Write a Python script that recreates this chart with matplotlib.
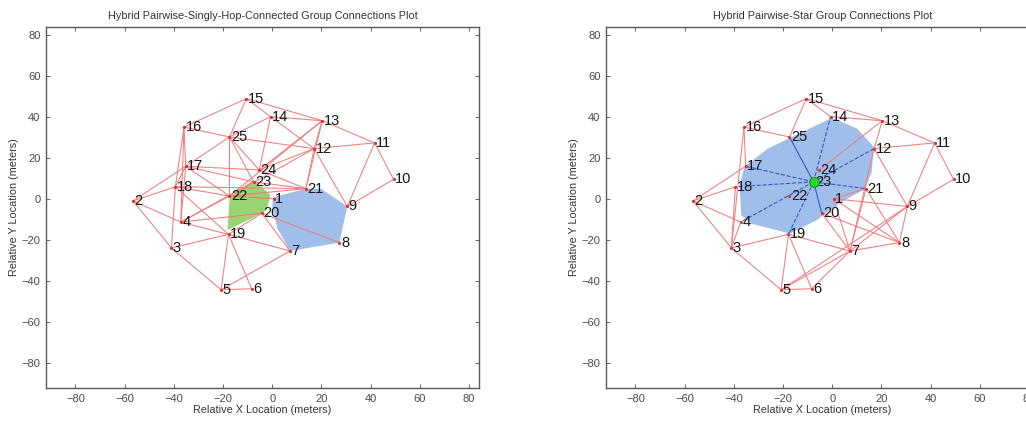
import matplotlib

matplotlib.use("Agg")
import matplotlib.pyplot as plt
import numpy as np

plt.rcParams["font.family"] = ["Liberation Sans", "DejaVu Sans"]

# node positions (meters), index = node id - 1
NODE_X = [0.5, -56.6, -41.0, -37.2, -20.8, -8.4, 7.2, 27.3, 30.5, 49.3,
          41.6, 17.0, 20.3, -0.7, -10.5, -35.9, -35.2, -39.4, -17.8, -4.3,
          13.7, -17.4, -7.6, -5.3, -17.4]
NODE_Y = [0.3, -0.8, -23.7, -11.1, -44.1, -43.6, -25.2, -21.1, -3.5, 9.7,
          27.5, 24.7, 38.3, 40.3, 49.1, 35.2, 16.1, 6.1, -17.1, -6.8,
          5.2, 1.6, 8.5, 14.3, 30.4]

LEFT_EDGES = [
    (15, 16), (15, 25), (15, 14), (15, 13), (14, 13), (14, 25), (14, 24),
    (14, 12), (13, 11), (13, 12), (13, 24), (13, 22), (13, 21), (16, 25),
    (16, 17), (16, 18), (25, 12), (25, 17), (25, 22), (25, 24), (25, 23),
    (12, 11), (12, 21), (12, 9), (12, 24), (12, 22), (11, 10), (11, 9),
    (10, 9), (17, 24), (17, 23), (17, 22), (17, 18), (17, 2), (17, 4),
    (18, 21), (18, 2), (18, 22), (18, 3), (18, 19), (2, 4), (2, 3),
    (4, 22), (4, 23), (4, 19), (4, 20), (3, 19), (3, 5), (19, 5), (19, 6),
    (19, 7), (19, 20), (5, 6), (5, 7), (7, 20), (20, 8), (22, 21), (22, 1),
    (24, 21), (16, 4), (23, 21),
]
RIGHT_EDGES = [
    (15, 16), (15, 25), (15, 14), (15, 13), (16, 25), (16, 3), (16, 17),
    (17, 2), (18, 2), (18, 3), (2, 4), (2, 3), (4, 3), (3, 19), (3, 5),
    (19, 5), (19, 6), (19, 7), (5, 6), (5, 7), (5, 9), (6, 7), (7, 9),
    (7, 8), (7, 12), (7, 20), (7, 1), (8, 9), (8, 1), (8, 20), (8, 21),
    (9, 10), (9, 11), (9, 1), (9, 12), (10, 11), (11, 12), (11, 13),
    (12, 13), (13, 24), (13, 14), (21, 7), (1, 21),
]
STAR_HUB = 23
STAR_SOLID = [25, 20]
STAR_DASHED = [14, 12, 21, 17, 18, 4, 19]

# group hulls
LEFT_GREEN_X = [-7.5, -0.7, -2.4, -5.9, -18.2, -17.3]
LEFT_GREEN_Y = [9.3, 2.0, -5.4, -7.8, -15.0, 1.1]
LEFT_BLUE_X = [0.5, 13.7, 20.0, 30.5, 27.3, 7.2, 2.0, 0.0]
LEFT_BLUE_Y = [1.0, 5.2, 5.0, -3.5, -21.1, -25.2, -14.0, -3.0]
RIGHT_BLUE_X = [-0.1, 10.1, 16.9, 16.0, 13.5, 2.6, -6.3, -17.2, -32.9,
                -37.0, -37.7, -35.7, -26.1]
RIGHT_BLUE_Y = [39.7, 34.5, 25.5, 13.3, 5.2, -2.1, -10.2, -16.7, -11.9,
                -7.8, 6.8, 15.8, 24.8]

TITLES = ["Hybrid Pairwise-Singly-Hop-Connected Group Connections Plot",
          "Hybrid Pairwise-Star Group Connections Plot"]
TICKS = [-80, -60, -40, -20, 0, 20, 40, 60, 80]
LIMS = (-92, 84)

RED = "#f27c7c"
BLUE_FILL = "#9fbfea"
GREEN_FILL = "#97d472"
AX_GREY = "#5a5a5a"


def _edge(ax, a, b, **kw):
    ax.plot([NODE_X[a - 1], NODE_X[b - 1]], [NODE_Y[a - 1], NODE_Y[b - 1]], **kw)


def _style(ax, title):
    ax.set_xlim(*LIMS)
    ax.set_ylim(*LIMS)
    ax.set_xticks(TICKS)
    ax.set_yticks(TICKS)
    ax.tick_params(direction="in", length=3, width=0.6, top=True, right=True,
                   labelsize=8, colors="#4a4a4a", pad=4)
    for sp in ax.spines.values():
        sp.set_color(AX_GREY)
        sp.set_linewidth(1.0)
    ax.set_title(title, fontsize=7.8, color="#333333", pad=6)
    ax.set_xlabel("Relative X Location (meters)", fontsize=7.8,
                  color="#333333", labelpad=1)
    ax.set_ylabel("Relative Y Location (meters)", fontsize=7.8,
                  color="#333333", labelpad=2)


def _nodes(ax):
    ax.scatter(NODE_X, NODE_Y, s=5, color="#e03030", zorder=4, linewidths=0)
    for i, (x, y) in enumerate(zip(NODE_X, NODE_Y)):
        ax.text(x + 0.6, y, str(i + 1), fontsize=10.5, ha="left", va="center",
                color="#151515", zorder=5)


fig = plt.figure(figsize=(10.26, 4.23), dpi=100)
ax1 = fig.add_axes([0.0448, 0.0827, 0.4220, 0.8535])
ax2 = fig.add_axes([0.5906, 0.0827, 0.4220, 0.8535])

# left: singly-hop-connected groups
ax1.fill(LEFT_BLUE_X, LEFT_BLUE_Y, color=BLUE_FILL, lw=0, zorder=1)
ax1.fill(LEFT_GREEN_X, LEFT_GREEN_Y, color=GREEN_FILL, lw=0, zorder=1)
for a, b in LEFT_EDGES:
    _edge(ax1, a, b, color=RED, lw=0.75, zorder=2)
_nodes(ax1)
_style(ax1, TITLES[0])

# right: star group
ax2.fill(RIGHT_BLUE_X, RIGHT_BLUE_Y, color=BLUE_FILL, lw=0, zorder=1)
for a, b in RIGHT_EDGES:
    _edge(ax2, a, b, color=RED, lw=0.75, zorder=2)
for n in STAR_SOLID:
    _edge(ax2, STAR_HUB, n, color="#3a55cc", lw=0.8, zorder=3)
for n in STAR_DASHED:
    _edge(ax2, STAR_HUB, n, color="#3a55cc", lw=0.8, ls="--", zorder=3)
_nodes(ax2)
ax2.plot(NODE_X[STAR_HUB - 1], NODE_Y[STAR_HUB - 1], "o", ms=7,
         color="#22dd22", mec="#117711", mew=0.6, zorder=6)
_style(ax2, TITLES[1])

fig.savefig("out.png", dpi=100, facecolor="white")
